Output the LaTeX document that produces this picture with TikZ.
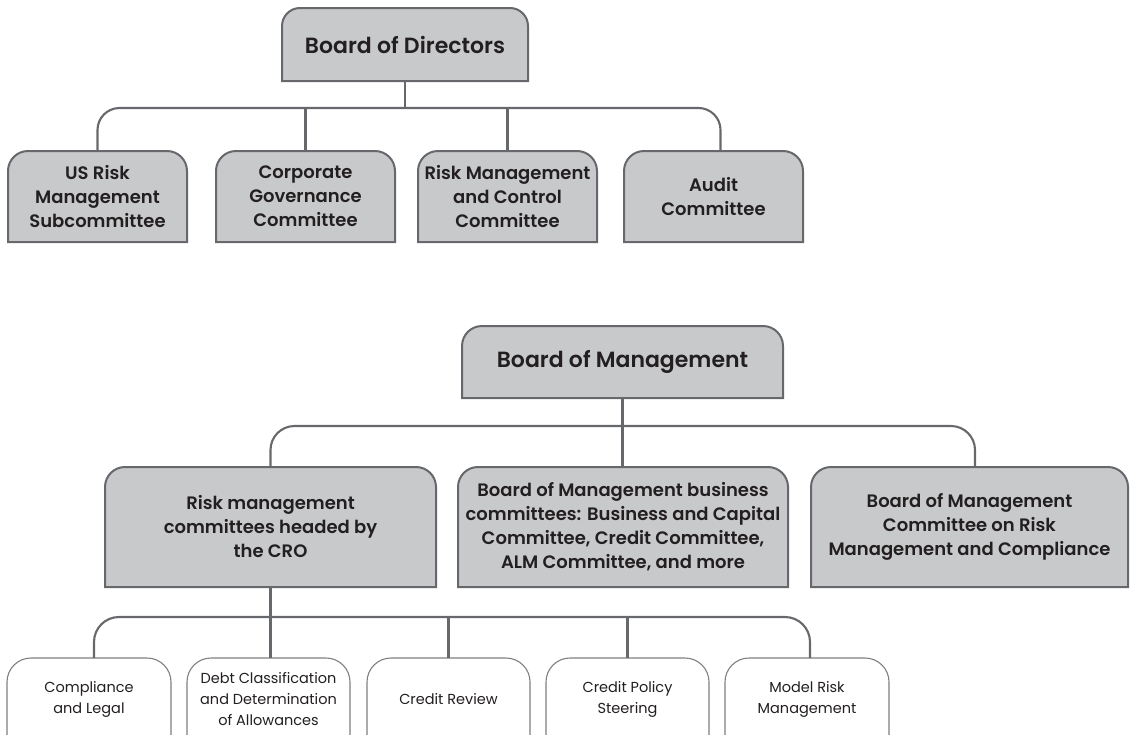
\documentclass[tikz,border=0pt]{standalone}
\usepackage{fontspec}
\setmainfont{Poppins}
\newfontfamily\semibold{Poppins SemiBold}
\usetikzlibrary{calc}

\definecolor{boxfill}{HTML}{C8C9CB}
\definecolor{edge}{HTML}{67686B}
\definecolor{ink}{HTML}{231F20}

\tikzset{
  slot/.style={draw=none, inner sep=0pt, outer sep=0pt, align=center, text=ink},
  conn/.style={draw=edge, line width=2.1pt},
  graybox/.style={fill=boxfill, draw=edge, line width=2pt},
  whitebox/.style={fill=white, draw=edge!85, line width=1.1pt},
  headfont/.style={font=\fontsize{22}{28}\selectfont\semibold},
  midfont/.style={font=\fontsize{18}{24}\selectfont\semibold},
  leaffont/.style={font=\fontsize{14.5}{21}\selectfont},
}

% \orgbox{name}{x1}{y1}{x2}{y2}{corner radius}{box style}{font style}{text}
% a box with rounded top corners and square bottom corners
\newcommand\orgbox[9]{%
  \path[#7] (#2,#5) -- (#2,{#3+#6})
    arc[start angle=180,end angle=90,radius=#6pt]
    -- ({#4-#6},#3)
    arc[start angle=90,end angle=0,radius=#6pt]
    -- (#4,#5) -- cycle;
  \node[slot,#8,minimum width={#4pt-#2pt},minimum height={#5pt-#3pt}]
    (#1) at ({(#2+#4)/2},{(#3+#5)/2}) {#9};
}

\begin{document}
\begin{tikzpicture}[x=1pt,y=-1pt]
\useasboundingbox (0,0) rectangle (1130,734);

% supervisory tier
\orgbox{bod}{282}{8}{528}{81}{18}{graybox}{headfont}{Board of Directors}
\orgbox{us}{8}{151}{187}{242}{20}{graybox}{midfont}{US Risk\\Management\\Subcommittee}
\orgbox{cg}{216}{151}{395}{242}{20}{graybox}{midfont}{Corporate\\Governance\\Committee}
\orgbox{rm}{418}{151}{597}{242}{20}{graybox}{midfont}{Risk Management\\and Control\\Committee}
\orgbox{ad}{624}{151}{803}{242}{20}{graybox}{midfont}{Audit\\Committee}

% management tier
\orgbox{bom}{462}{326}{783}{398}{20}{graybox}{headfont}{Board of Management}
\orgbox{cro}{105}{467}{436}{587}{20}{graybox}{midfont}{Risk management\\committees headed by\\the CRO}
\orgbox{biz}{458}{467}{788}{587}{20}{graybox}{midfont}{Board of Management business\\committees: Business and Capital\\Committee, Credit Committee,\\ALM Committee, and more}
\orgbox{cmp}{811}{467}{1128}{587}{20}{graybox}{midfont}{Board of Management\\Committee on Risk\\Management and Compliance}

% committees headed by the CRO
\orgbox{cl}{7}{658}{171}{740}{24}{whitebox}{leaffont}{Compliance\\and Legal}
\orgbox{dc}{187}{658}{350}{740}{24}{whitebox}{leaffont}{Debt Classification\\and Determination\\of Allowances}
\orgbox{cr}{367}{658}{530}{740}{24}{whitebox}{leaffont}{Credit Review}
\orgbox{cp}{546}{658}{709}{740}{24}{whitebox}{leaffont}{Credit Policy\\Steering}
\orgbox{mr}{725}{658}{889}{740}{24}{whitebox}{leaffont}{Model Risk\\Management}

% connectors, supervisory tier
\coordinate (busA) at (405,108);
\coordinate (adtop) at ([xshift=7pt]ad.north);
\draw[conn] (bod.south) -- (bod.south |- busA);
\draw[conn,rounded corners=22pt] (us.north) -- (us.north |- busA) -- (adtop |- busA) -- (adtop);
\draw[conn] (cg.north) -- (cg.north |- busA);
\draw[conn] (rm.north) -- (rm.north |- busA);

% connectors, management tier
\coordinate (busB) at (622,426);
\coordinate (cmptop) at ([xshift=5.5pt]cmp.north);
\draw[conn] (bom.south) -- (bom.south |- biz.north);
\draw[conn,rounded corners=24pt] (cro.north) -- (cro.north |- busB) -- (cmptop |- busB) -- (cmptop);

% connectors, CRO committees
\coordinate (busC) at (270,617);
\coordinate (cltop) at ([xshift=5pt]cl.north);
\coordinate (mrtop) at ([xshift=3pt]mr.north);
\draw[conn] (cro.south) -- (cro.south |- dc.north);
\draw[conn,rounded corners=25pt] (cltop) -- (cltop |- busC) -- (mrtop |- busC) -- (mrtop);
\draw[conn] (cr.north) -- (cr.north |- busC);
\draw[conn] (cp.north) -- (cp.north |- busC);
\end{tikzpicture}
\end{document}
